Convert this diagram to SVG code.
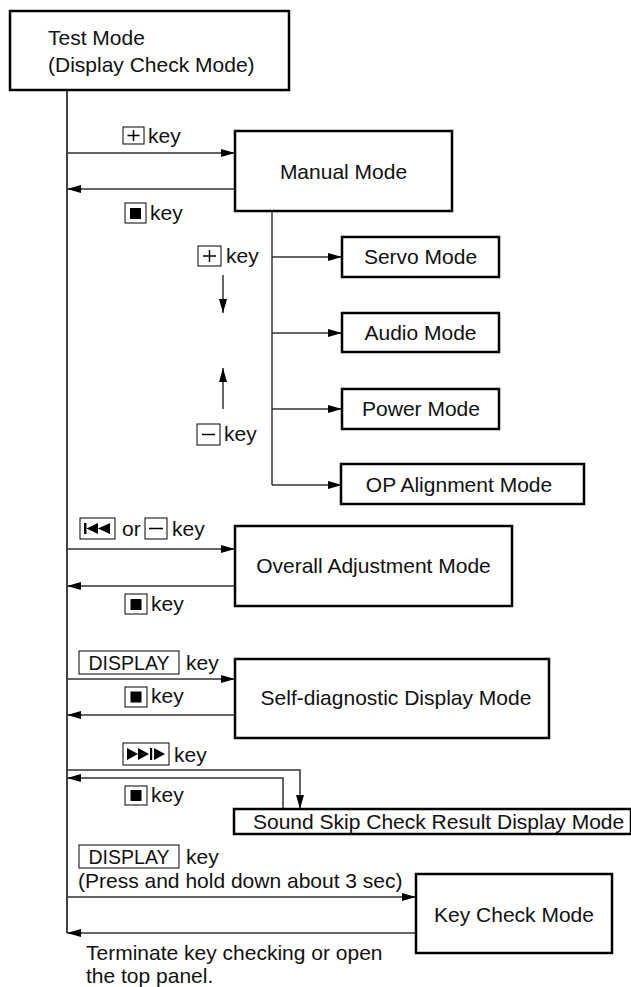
<svg xmlns="http://www.w3.org/2000/svg" width="631" height="987" viewBox="0 0 631 987">
<style>
.box{fill:#fff;stroke:#000;stroke-width:2.5}
.kb{fill:#fff;stroke:#000;stroke-width:1}
.ln{fill:none;stroke:#333;stroke-width:1.5}
.main{fill:none;stroke:#444;stroke-width:2}
.t{font-family:"Liberation Sans",Arial,Helvetica,sans-serif;font-size:21px;fill:#111}
.m{text-anchor:middle}
.ico{fill:#000;stroke:none}
.sym{stroke:#000;stroke-width:1.5;fill:none}
</style>
<defs>
<marker id="ah" markerUnits="userSpaceOnUse" markerWidth="14" markerHeight="8" refX="14" refY="4" orient="auto">
<path d="M0,0 L14,4 L0,8 z" fill="#000"/>
</marker>
</defs>
<rect width="631" height="987" fill="#fff"/>

<g id="connectors">
<line class="main" x1="67" y1="90" x2="67" y2="933"/>
<line class="ln" x1="67" y1="153" x2="235" y2="153" marker-end="url(#ah)"/>
<line class="ln" x1="235" y1="189" x2="67" y2="189" marker-end="url(#ah)"/>
<path class="ln" d="M272,211 V485"/>
<line class="ln" x1="272" y1="257" x2="342" y2="257" marker-end="url(#ah)"/>
<line class="ln" x1="272" y1="333" x2="342" y2="333" marker-end="url(#ah)"/>
<line class="ln" x1="272" y1="409" x2="342" y2="409" marker-end="url(#ah)"/>
<line class="ln" x1="272" y1="485" x2="342" y2="485" marker-end="url(#ah)"/>
<line class="ln" x1="223" y1="275" x2="223" y2="313" marker-end="url(#ah)"/>
<line class="ln" x1="223" y1="409" x2="223" y2="368" marker-end="url(#ah)"/>
<line class="ln" x1="67" y1="549" x2="235" y2="549" marker-end="url(#ah)"/>
<line class="ln" x1="235" y1="586" x2="67" y2="586" marker-end="url(#ah)"/>
<line class="ln" x1="67" y1="679" x2="235" y2="679" marker-end="url(#ah)"/>
<line class="ln" x1="235" y1="715" x2="67" y2="715" marker-end="url(#ah)"/>
<path class="ln" d="M67,770 H300 V809" marker-end="url(#ah)"/>
<path class="ln" d="M283,809 V778 H67" marker-end="url(#ah)"/>
<line class="ln" x1="67" y1="897" x2="416" y2="897" marker-end="url(#ah)"/>
<line class="ln" x1="416" y1="933" x2="67" y2="933" marker-end="url(#ah)"/>
</g>

<g id="test-mode">
<rect class="box" x="10" y="11" width="279" height="79"/>
<text class="t" x="48" y="45">Test Mode</text>
<text class="t" x="48" y="72">(Display Check Mode)</text>
</g>
<g id="manual-mode">
<rect class="box" x="235" y="131" width="217" height="80"/>
<text class="t m" x="343.5" y="179">Manual Mode</text>
</g>
<g id="servo-mode">
<rect class="box" x="342" y="237" width="157" height="40"/>
<text class="t m" x="420.5" y="264">Servo Mode</text>
</g>
<g id="audio-mode">
<rect class="box" x="342" y="313" width="157" height="39"/>
<text class="t m" x="420.5" y="340">Audio Mode</text>
</g>
<g id="power-mode">
<rect class="box" x="342" y="389" width="157" height="40"/>
<text class="t m" x="421" y="416">Power Mode</text>
</g>
<g id="op-alignment-mode">
<rect class="box" x="341" y="464" width="243" height="40"/>
<text class="t m" x="459" y="492">OP Alignment Mode</text>
</g>
<g id="overall-adjustment-mode">
<rect class="box" x="235" y="526" width="277" height="80"/>
<text class="t m" x="373.5" y="573">Overall Adjustment Mode</text>
</g>
<g id="self-diagnostic-mode">
<rect class="box" x="235" y="659" width="314" height="79"/>
<text class="t m" x="396" y="705">Self-diagnostic Display Mode</text>
</g>
<g id="sound-skip-mode">
<rect class="box" x="234" y="809" width="397" height="25"/>
<text class="t" x="253" y="829">Sound Skip Check Result Display Mode</text>
</g>
<g id="key-check-mode">
<rect class="box" x="416" y="874" width="196" height="79"/>
<text class="t m" x="514" y="922">Key Check Mode</text>
</g>

<g id="labels">
<!-- + key top -->
<rect class="kb" x="123" y="127" width="21" height="17"/>
<path class="sym" d="M127.5,135.5 H139.5 M133.5,130 V141"/>
<text class="t" x="148" y="143">key</text>
<!-- stop key top -->
<rect class="kb" x="125" y="203" width="21" height="20"/>
<rect class="ico" x="130" y="208" width="11" height="11"/>
<text class="t" x="150" y="220">key</text>
<!-- + key manual -->
<rect class="kb" x="198" y="246" width="23" height="20"/>
<path class="sym" d="M203,256 H216 M209.5,250 V262"/>
<text class="t" x="226" y="263">key</text>
<!-- - key -->
<rect class="kb" x="197" y="424" width="23" height="21"/>
<path class="sym" d="M202,434.5 H215"/>
<text class="t" x="224" y="441">key</text>
<!-- prev or - key -->
<rect class="kb" x="80" y="518" width="35" height="21"/>
<rect class="ico" x="84" y="523" width="2.5" height="11"/>
<path class="ico" d="M86.5,528.5 L98,523 L98,534 Z M98,528.5 L110,523 L110,534 Z"/>
<text class="t" x="122" y="536">or</text>
<rect class="kb" x="145" y="518" width="22" height="21"/>
<path class="sym" d="M149,528.5 H163"/>
<text class="t" x="172" y="536">key</text>
<!-- stop key overall -->
<rect class="kb" x="125" y="594" width="22" height="20"/>
<rect class="ico" x="130.5" y="599" width="11" height="11"/>
<text class="t" x="151" y="611">key</text>
<!-- DISPLAY key -->
<rect class="kb" x="79" y="651" width="100" height="23"/>
<text class="t m" x="129" y="670" style="font-size:19.5px">DISPLAY</text>
<text class="t" x="186" y="670">key</text>
<!-- stop key self -->
<rect class="kb" x="125" y="687" width="22" height="20"/>
<rect class="ico" x="130.5" y="691.5" width="11" height="11"/>
<text class="t" x="151" y="703">key</text>
<!-- play key -->
<rect class="kb" x="123" y="743" width="46" height="22"/>
<path class="ico" d="M127,748 L138,754 L127,760 Z M138,748 L149,754 L138,760 Z M154,748 L165,754 L154,760 Z"/>
<rect class="ico" x="150" y="748" width="2.2" height="12"/>
<text class="t" x="174" y="762">key</text>
<!-- stop key sound skip -->
<rect class="kb" x="125" y="786" width="22" height="19"/>
<rect class="ico" x="130.5" y="790" width="11" height="11"/>
<text class="t" x="151" y="802">key</text>
<!-- DISPLAY key 2 -->
<rect class="kb" x="79" y="845" width="100" height="23"/>
<text class="t m" x="129" y="864" style="font-size:19.5px">DISPLAY</text>
<text class="t" x="186" y="864">key</text>
<text class="t" x="78" y="888">(Press and hold down about 3 sec)</text>
<!-- terminate -->
<text class="t" x="86" y="960">Terminate key checking or open</text>
<text class="t" x="86" y="983">the top panel.</text>
</g>
</svg>
